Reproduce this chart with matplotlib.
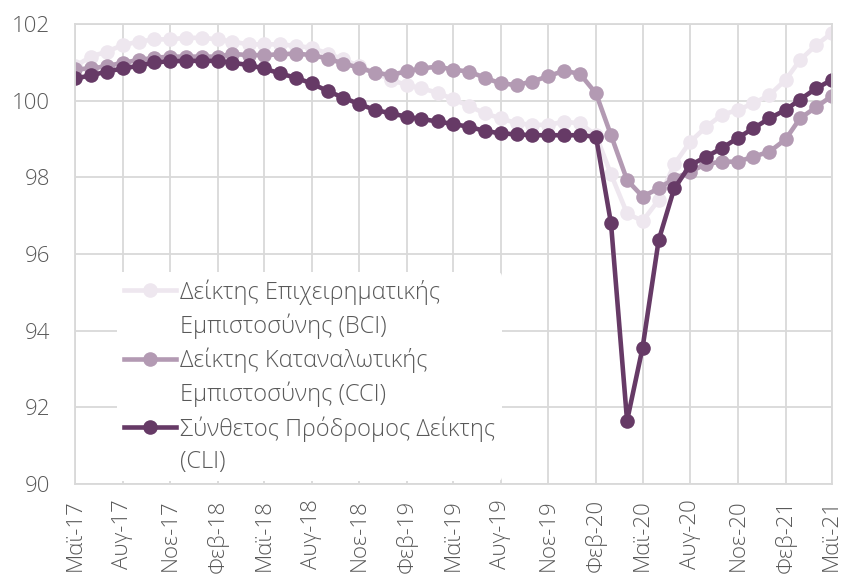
import matplotlib.pyplot as plt
from matplotlib.lines import Line2D
import pandas as pd

# monthly indices, May 2017 - May 2021
months = pd.date_range('2017-05-01', '2021-05-01', freq='MS')

bci = [100.90, 101.15, 101.28, 101.45, 101.54, 101.60, 101.60, 101.64, 101.64, 101.60,
       101.54, 101.47, 101.47, 101.47, 101.43, 101.38, 101.23, 101.08, 100.90, 100.73,
       100.54, 100.41, 100.32, 100.21, 100.04, 99.86, 99.67, 99.54, 99.41, 99.37,
       99.37, 99.45, 99.41, 99.10, 98.08, 97.06, 96.86, 97.41, 98.34, 98.93,
       99.32, 99.63, 99.76, 99.93, 100.15, 100.54, 101.06, 101.45, 101.76]

cci = [100.82, 100.84, 100.90, 100.99, 101.06, 101.12, 101.15, 101.15, 101.15, 101.15,
       101.22, 101.19, 101.19, 101.21, 101.23, 101.19, 101.10, 100.97, 100.86, 100.73,
       100.67, 100.77, 100.84, 100.89, 100.81, 100.76, 100.60, 100.45, 100.41, 100.50,
       100.64, 100.78, 100.70, 100.19, 99.10, 97.93, 97.50, 97.71, 97.97, 98.15,
       98.35, 98.41, 98.41, 98.54, 98.67, 98.99, 99.54, 99.83, 100.12]

cli = [100.58, 100.66, 100.76, 100.84, 100.91, 101.00, 101.03, 101.04, 101.04, 101.04,
       100.99, 100.93, 100.84, 100.71, 100.60, 100.45, 100.25, 100.08, 99.91, 99.76,
       99.67, 99.58, 99.52, 99.46, 99.39, 99.32, 99.21, 99.15, 99.12, 99.10,
       99.10, 99.10, 99.10, 99.06, 96.80, 91.65, 93.56, 96.36, 97.71, 98.32,
       98.54, 98.76, 99.03, 99.28, 99.54, 99.76, 100.03, 100.32, 100.54]

greek_months = {2: 'Φεβ', 5: 'Μαϊ', 8: 'Αυγ', 11: 'Νοε'}
tick_dates = months[::3]
tick_labels = [f"{greek_months[d.month]}-{d.strftime('%y')}" for d in tick_dates]

labels = ['Δείκτης Επιχειρηματικής\nΕμπιστοσύνης (BCI)',
          'Δείκτης Καταναλωτικής\nΕμπιστοσύνης (CCI)',
          'Σύνθετος Πρόδρομος Δείκτης\n(CLI)']
colors = ['#EEE7EF', '#B39AB3', '#663A66']

plt.rcParams['font.family'] = ['Open Sans', 'DejaVu Sans']
grey = '#D9D9D9'
text_grey = '#595959'

fig = plt.figure(figsize=(8.46, 5.79), dpi=100)
ax = fig.add_axes([0.0887, 0.164, 0.8943, 0.7945])

handles = []
for series, col in zip([bci, cci, cli], colors):
    h, = ax.plot(months, series, color=col, lw=3.3, marker='o', ms=10.5,
                 markeredgewidth=0)
    handles.append(h)

ax.set_ylim(90, 102)
ax.set_yticks(range(90, 103, 2))
ax.set_xlim(months[0], months[-1])
ax.set_xticks(tick_dates)
ax.set_xticklabels(tick_labels, rotation=90)
ax.tick_params(length=0, labelsize=16, labelcolor=text_grey)
ax.tick_params(axis='y', pad=18)
ax.tick_params(axis='x', pad=11)
for lbl in ax.get_yticklabels() + ax.get_xticklabels():
    lbl.set_fontweight('light')

ax.grid(True, color=grey, lw=1.3)
ax.set_axisbelow(True)
for s in ax.spines.values():
    s.set_color(grey)
    s.set_linewidth(1.3)

# each label's second line gets an empty handle so the marker sits on line one
blank = Line2D([], [], color='none')
leg_handles, leg_labels = [], []
for h, lab in zip(handles, labels):
    first, second = lab.split('\n')
    leg_handles += [h, blank]
    leg_labels += [first, second]

leg = ax.legend(leg_handles, leg_labels, loc='lower left',
                bbox_to_anchor=(0.04, -0.02), frameon=True, framealpha=1,
                edgecolor='none', fontsize=17, handlelength=2.2,
                handletextpad=0.15, labelspacing=0.37, borderpad=0.3)
leg.set_zorder(2.4)  # keep the bottom spine visible over the white box
for t in leg.get_texts():
    t.set_color(text_grey)
    t.set_fontweight('light')

fig.savefig('out.png', dpi=100)
